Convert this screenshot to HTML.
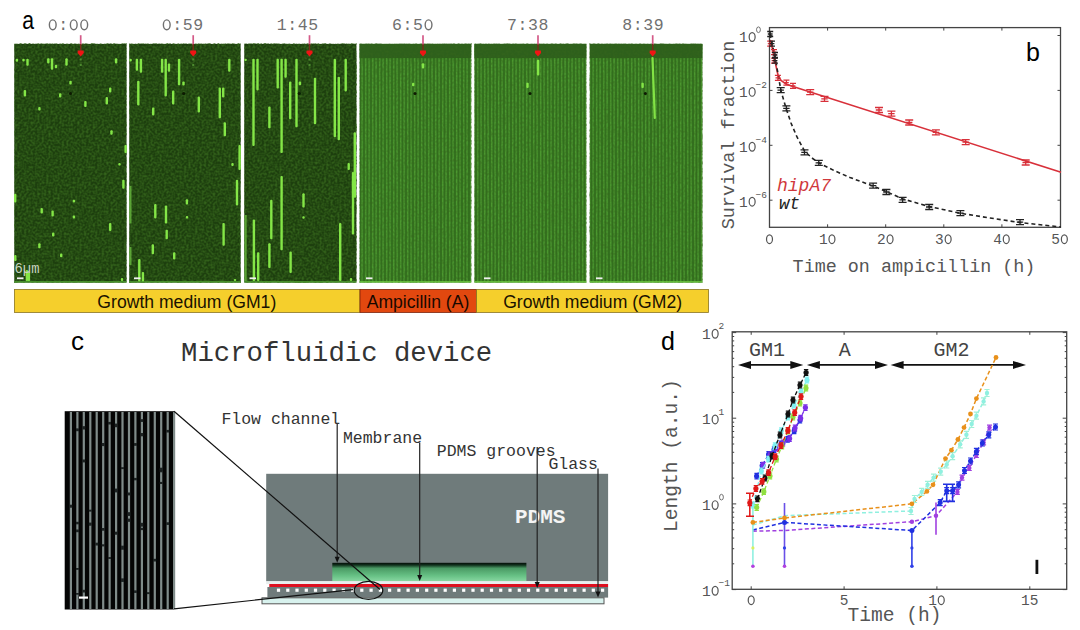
<!DOCTYPE html>
<html><head><meta charset="utf-8"><title>figure</title>
<style>html,body{margin:0;padding:0;background:#fff;width:1080px;height:630px;overflow:hidden}svg{display:block}</style>
</head><body>
<svg width="1080" height="630" viewBox="0 0 1080 630">
<rect width="1080" height="630" fill="#fff"/>
<defs>
<pattern id="strp" width="3.5" height="10" patternUnits="userSpaceOnUse"><rect width="3.5" height="10" fill="#32701e"/><rect x="0.9" width="1.5" height="10" fill="#4c9a30"/></pattern>
<filter id="glow" x="-50%" y="-10%" width="200%" height="120%"><feGaussianBlur stdDeviation="0.45"/></filter><filter id="noise" x="0" y="0" width="100%" height="100%" color-interpolation-filters="sRGB"><feTurbulence type="fractalNoise" baseFrequency="0.45" numOctaves="1" seed="4"/><feColorMatrix type="matrix" values="0 0 0 0 0.21  0 0 0 0 0.40  0 0 0 0 0.11  0 0 0 2.2 -0.78"/></filter>
<linearGradient id="chan" x1="0" y1="0" x2="0" y2="1"><stop offset="0" stop-color="#050d08"/><stop offset="0.12" stop-color="#10301c"/><stop offset="0.3" stop-color="#4a9a64"/><stop offset="0.7" stop-color="#66c084"/><stop offset="1" stop-color="#86d6a0"/></linearGradient>
</defs>
<rect x="14.3" y="43.9" width="112.2" height="238.7" fill="#1d3f0e"/>
<rect x="14.3" y="43.9" width="112.2" height="238.7" filter="url(#noise)"/>
<rect x="129.3" y="43.9" width="111.3" height="238.7" fill="#1d3f0e"/>
<rect x="129.3" y="43.9" width="111.3" height="238.7" filter="url(#noise)"/>
<rect x="244.3" y="43.9" width="112.1" height="238.7" fill="#1d3f0e"/>
<rect x="244.3" y="43.9" width="112.1" height="238.7" filter="url(#noise)"/>
<rect x="359.6" y="43.9" width="111.6" height="238.7" fill="url(#strp)"/>
<rect x="359.6" y="43.9" width="111.6" height="14.2" fill="#2e601c"/>
<rect x="359.6" y="43.9" width="111.6" height="238.7" filter="url(#noise)" opacity="0.6"/>
<rect x="474.4" y="43.9" width="111.9" height="238.7" fill="url(#strp)"/>
<rect x="474.4" y="43.9" width="111.9" height="14.2" fill="#2e601c"/>
<rect x="474.4" y="43.9" width="111.9" height="238.7" filter="url(#noise)" opacity="0.6"/>
<rect x="589.8" y="43.9" width="112.6" height="238.7" fill="url(#strp)"/>
<rect x="589.8" y="43.9" width="112.6" height="14.2" fill="#2e601c"/>
<rect x="589.8" y="43.9" width="112.6" height="238.7" filter="url(#noise)" opacity="0.6"/>
<g filter="url(#glow)">
<rect x="15.7" y="58.8" width="2.4" height="3.0" rx="1" fill="#84e646"/>
<rect x="22.3" y="58.8" width="2.4" height="2.6" rx="1" fill="#84e646"/>
<rect x="26.3" y="58.8" width="2.4" height="7.0" rx="1" fill="#84e646"/>
<rect x="47.1" y="58.2" width="2.4" height="5.2" rx="1" fill="#84e646"/>
<rect x="50.8" y="58.2" width="2.4" height="11.5" rx="1" fill="#84e646"/>
<rect x="54.8" y="64.8" width="2.4" height="3.4" rx="1" fill="#84e646"/>
<rect x="65.3" y="58.2" width="2.4" height="7.6" rx="1" fill="#84e646"/>
<rect x="114.9" y="58.2" width="2.4" height="5.2" rx="1" fill="#84e646"/>
<rect x="69.3" y="80.7" width="2.4" height="3.9" rx="1" fill="#84e646"/>
<rect x="23.7" y="90.0" width="2.4" height="6.5" rx="1" fill="#84e646"/>
<rect x="59.0" y="93.2" width="2.4" height="4.3" rx="1" fill="#84e646"/>
<rect x="109.0" y="87.6" width="2.4" height="5.0" rx="1" fill="#84e646"/>
<rect x="105.6" y="97.1" width="2.4" height="7.4" rx="1" fill="#84e646"/>
<rect x="84.2" y="101.0" width="2.4" height="6.0" rx="1" fill="#84e646"/>
<rect x="38.2" y="107.0" width="2.4" height="3.4" rx="1" fill="#84e646"/>
<rect x="110.3" y="130.2" width="2.4" height="4.6" rx="1" fill="#84e646"/>
<rect x="124.4" y="145.0" width="2.4" height="8.0" rx="1" fill="#84e646"/>
<rect x="118.3" y="163.0" width="2.4" height="2.5" rx="1" fill="#84e646"/>
<rect x="122.2" y="179.8" width="2.4" height="9.0" rx="1" fill="#84e646"/>
<rect x="14.0" y="193.7" width="2.4" height="8.9" rx="1" fill="#84e646"/>
<rect x="72.7" y="199.7" width="2.4" height="2.9" rx="1" fill="#84e646"/>
<rect x="40.5" y="208.0" width="2.4" height="5.5" rx="1" fill="#84e646"/>
<rect x="51.4" y="210.6" width="2.4" height="5.9" rx="1" fill="#84e646"/>
<rect x="72.7" y="215.5" width="2.4" height="3.0" rx="1" fill="#84e646"/>
<rect x="109.0" y="223.0" width="2.4" height="8.0" rx="1" fill="#84e646"/>
<rect x="52.0" y="232.4" width="2.4" height="4.0" rx="1" fill="#84e646"/>
<rect x="38.2" y="243.3" width="2.4" height="5.0" rx="1" fill="#84e646"/>
<rect x="60.0" y="253.6" width="2.4" height="3.6" rx="1" fill="#84e646"/>
<rect x="14.1" y="255.0" width="2.4" height="6.0" rx="1" fill="#84e646"/>
<rect x="25.7" y="270.0" width="2.4" height="11.0" rx="1" fill="#84e646"/>
<rect x="27.7" y="272.0" width="2.4" height="9.0" rx="1" fill="#84e646"/>
<rect x="120.8" y="278.0" width="2.4" height="3.0" rx="1" fill="#84e646"/>
<rect x="129.4" y="58.8" width="2.4" height="2.6" rx="1" fill="#84e646"/>
<rect x="135.7" y="58.8" width="2.4" height="11.9" rx="1" fill="#84e646"/>
<rect x="139.7" y="58.8" width="2.4" height="13.9" rx="1" fill="#84e646"/>
<rect x="160.9" y="58.8" width="2.4" height="13.9" rx="1" fill="#84e646"/>
<rect x="164.5" y="58.8" width="2.4" height="37.7" rx="1" fill="#84e646"/>
<rect x="167.8" y="63.4" width="2.4" height="8.3" rx="1" fill="#84e646"/>
<rect x="177.9" y="58.8" width="2.4" height="26.4" rx="1" fill="#84e646"/>
<rect x="182.3" y="81.6" width="2.4" height="4.0" rx="1" fill="#84e646"/>
<rect x="228.1" y="58.8" width="2.4" height="12.9" rx="1" fill="#84e646"/>
<rect x="137.1" y="80.7" width="2.4" height="24.8" rx="1" fill="#84e646"/>
<rect x="172.0" y="90.6" width="2.4" height="13.9" rx="1" fill="#84e646"/>
<rect x="152.0" y="107.4" width="2.4" height="8.0" rx="1" fill="#84e646"/>
<rect x="197.6" y="96.5" width="2.4" height="15.9" rx="1" fill="#84e646"/>
<rect x="218.6" y="87.6" width="2.4" height="30.7" rx="1" fill="#84e646"/>
<rect x="222.0" y="87.6" width="2.4" height="9.9" rx="1" fill="#84e646"/>
<rect x="223.6" y="122.3" width="2.4" height="13.9" rx="1" fill="#84e646"/>
<rect x="238.4" y="145.0" width="2.4" height="25.0" rx="1" fill="#84e646"/>
<rect x="231.3" y="163.0" width="2.4" height="3.0" rx="1" fill="#84e646"/>
<rect x="235.8" y="179.8" width="2.4" height="25.8" rx="1" fill="#84e646"/>
<rect x="185.7" y="199.3" width="2.4" height="5.3" rx="1" fill="#84e646"/>
<rect x="154.1" y="204.0" width="2.4" height="14.5" rx="1" fill="#84e646"/>
<rect x="164.8" y="205.6" width="2.4" height="17.9" rx="1" fill="#84e646"/>
<rect x="185.8" y="216.0" width="2.4" height="2.5" rx="1" fill="#84e646"/>
<rect x="222.4" y="223.0" width="2.4" height="22.7" rx="1" fill="#84e646"/>
<rect x="165.5" y="229.8" width="2.4" height="9.5" rx="1" fill="#84e646"/>
<rect x="151.6" y="244.3" width="2.4" height="9.9" rx="1" fill="#84e646"/>
<rect x="173.0" y="252.2" width="2.4" height="7.4" rx="1" fill="#84e646"/>
<rect x="138.1" y="259.0" width="2.4" height="23.0" rx="1" fill="#84e646"/>
<rect x="141.7" y="272.0" width="2.4" height="10.0" rx="1" fill="#84e646"/>
<rect x="233.8" y="279.0" width="2.4" height="2.0" rx="1" fill="#84e646"/>
<rect x="244.4" y="58.8" width="2.4" height="2.2" rx="1" fill="#84e646"/>
<rect x="252.3" y="58.8" width="2.4" height="87.2" rx="1" fill="#84e646"/>
<rect x="256.3" y="58.8" width="2.4" height="31.8" rx="1" fill="#84e646"/>
<rect x="276.5" y="58.8" width="2.4" height="29.8" rx="1" fill="#84e646"/>
<rect x="280.4" y="58.8" width="2.4" height="94.2" rx="1" fill="#84e646"/>
<rect x="284.4" y="58.8" width="2.4" height="18.9" rx="1" fill="#84e646"/>
<rect x="289.0" y="81.6" width="2.4" height="37.7" rx="1" fill="#84e646"/>
<rect x="295.3" y="58.8" width="2.4" height="68.5" rx="1" fill="#84e646"/>
<rect x="298.7" y="81.6" width="2.4" height="3.6" rx="1" fill="#84e646"/>
<rect x="313.8" y="77.7" width="2.4" height="46.6" rx="1" fill="#84e646"/>
<rect x="268.2" y="106.4" width="2.4" height="21.9" rx="1" fill="#84e646"/>
<rect x="333.6" y="58.8" width="2.4" height="78.4" rx="1" fill="#84e646"/>
<rect x="337.6" y="76.7" width="2.4" height="63.5" rx="1" fill="#84e646"/>
<rect x="344.5" y="58.8" width="2.4" height="32.8" rx="1" fill="#84e646"/>
<rect x="353.6" y="132.2" width="2.4" height="65.5" rx="1" fill="#84e646"/>
<rect x="347.5" y="163.0" width="2.4" height="7.0" rx="1" fill="#84e646"/>
<rect x="351.8" y="172.0" width="2.4" height="62.4" rx="1" fill="#84e646"/>
<rect x="280.4" y="175.9" width="2.4" height="74.3" rx="1" fill="#84e646"/>
<rect x="270.1" y="199.7" width="2.4" height="39.6" rx="1" fill="#84e646"/>
<rect x="302.3" y="193.3" width="2.4" height="14.3" rx="1" fill="#84e646"/>
<rect x="302.3" y="216.3" width="2.4" height="2.5" rx="1" fill="#84e646"/>
<rect x="252.7" y="219.5" width="2.4" height="61.5" rx="1" fill="#84e646"/>
<rect x="257.0" y="252.2" width="2.4" height="28.8" rx="1" fill="#84e646"/>
<rect x="268.2" y="243.3" width="2.4" height="24.7" rx="1" fill="#84e646"/>
<rect x="289.4" y="251.6" width="2.4" height="21.4" rx="1" fill="#84e646"/>
<rect x="339.0" y="223.0" width="2.4" height="58.0" rx="1" fill="#84e646"/>
<rect x="349.8" y="278.0" width="2.4" height="3.0" rx="1" fill="#84e646"/>
<rect x="421.8" y="63.3" width="2.4" height="5.3" rx="1" fill="#84e646"/>
<rect x="412.0" y="82.7" width="2.4" height="3.5" rx="1" fill="#84e646"/>
<rect x="536.9" y="59.8" width="2.4" height="15.8" rx="1" fill="#84e646"/>
<rect x="526.3" y="82.7" width="2.4" height="5.3" rx="1" fill="#84e646"/>
<rect x="641.4" y="82.7" width="2.4" height="5.3" rx="1" fill="#84e646"/>
<rect x="129.3" y="186" width="2.2" height="37.5" fill="#6cc040" opacity="0.75"/>
<rect x="129.3" y="247" width="2.2" height="18" fill="#6cc040" opacity="0.75"/>
<rect x="244.5" y="215" width="2.2" height="66" fill="#6cc040" opacity="0.75"/>
<line x1="652.5" y1="58" x2="654.8" y2="118" stroke="#82e344" stroke-width="2.2" stroke-linecap="round"/>
</g>
<rect x="79.7" y="58.5" width="2" height="2" fill="#4d8a30"/><rect x="79.7" y="64" width="2" height="2" fill="#4d8a30"/>
<rect x="192.2" y="58.5" width="2" height="2" fill="#4d8a30"/><rect x="192.2" y="64" width="2" height="2" fill="#4d8a30"/>
<rect x="308.5" y="58.5" width="2" height="2" fill="#4d8a30"/><rect x="308.5" y="64" width="2" height="2" fill="#4d8a30"/>
<circle cx="70.5" cy="93.5" r="1.5" fill="#0a1a05" filter="url(#glow)"/>
<circle cx="183.6" cy="93.5" r="1.5" fill="#0a1a05" filter="url(#glow)"/>
<circle cx="299.2" cy="93.5" r="1.5" fill="#0a1a05" filter="url(#glow)"/>
<circle cx="415" cy="93.5" r="1.5" fill="#0a1a05" filter="url(#glow)"/>
<circle cx="530" cy="93.5" r="1.5" fill="#0a1a05" filter="url(#glow)"/>
<circle cx="645.4" cy="93.5" r="1.5" fill="#0a1a05" filter="url(#glow)"/>
<rect x="14.3" y="281.2" width="112.2" height="1.3" fill="#4fa030"/>
<rect x="129.3" y="281.2" width="111.3" height="1.3" fill="#4fa030"/>
<rect x="244.3" y="281.2" width="112.1" height="1.3" fill="#4fa030"/>
<rect x="359.6" y="281.2" width="111.6" height="1.3" fill="#6cc840"/>
<rect x="474.4" y="281.2" width="111.9" height="1.3" fill="#6cc840"/>
<rect x="589.8" y="281.2" width="112.6" height="1.3" fill="#6cc840"/>
<rect x="17" y="277.4" width="6.5" height="1.8" fill="#f0f0f0"/>
<rect x="134" y="277.4" width="6.5" height="1.8" fill="#f0f0f0"/>
<rect x="249.5" y="277.4" width="6.5" height="1.8" fill="#f0f0f0"/>
<rect x="366" y="277.4" width="6.5" height="1.8" fill="#f0f0f0"/>
<rect x="484" y="277.4" width="6.5" height="1.8" fill="#f0f0f0"/>
<rect x="596" y="277.4" width="6.5" height="1.8" fill="#f0f0f0"/>
<text x="14.6" y="273.4" font-family="'Liberation Mono', monospace" font-size="13.8" fill="#c8d4c0">6µm</text>
<line x1="80.7" y1="35.2" x2="80.7" y2="45" stroke="#d45a88" stroke-width="1.7"/>
<line x1="80.7" y1="44" x2="80.7" y2="51" stroke="#7a2a1a" stroke-width="1.4"/>
<path d="M77.8,50.6 L83.60000000000001,50.6 L83.8,53 L80.7,56.6 L77.60000000000001,53 Z" fill="#f01414"/>
<text y="30.30" font-size="16.5" font-family="'Liberation Mono', monospace" fill="#707070" ><tspan x="58.30">:</tspan></text><ellipse cx="52.75" cy="24.82" rx="3.38" ry="4.95" fill="none" stroke="#707070" stroke-width="1.40"/><ellipse cx="73.75" cy="24.82" rx="3.38" ry="4.95" fill="none" stroke="#707070" stroke-width="1.40"/><ellipse cx="84.25" cy="24.82" rx="3.38" ry="4.95" fill="none" stroke="#707070" stroke-width="1.40"/>
<line x1="193.2" y1="35.2" x2="193.2" y2="45" stroke="#d45a88" stroke-width="1.7"/>
<line x1="193.2" y1="44" x2="193.2" y2="51" stroke="#7a2a1a" stroke-width="1.4"/>
<path d="M190.29999999999998,50.6 L196.1,50.6 L196.29999999999998,53 L193.2,56.6 L190.1,53 Z" fill="#f01414"/>
<text y="30.30" font-size="16.5" font-family="'Liberation Mono', monospace" fill="#707070" ><tspan x="172.30">:</tspan><tspan x="182.80">5</tspan><tspan x="193.30">9</tspan></text><ellipse cx="166.75" cy="24.82" rx="3.38" ry="4.95" fill="none" stroke="#707070" stroke-width="1.40"/>
<line x1="309.5" y1="35.2" x2="309.5" y2="45" stroke="#d45a88" stroke-width="1.7"/>
<line x1="309.5" y1="44" x2="309.5" y2="51" stroke="#7a2a1a" stroke-width="1.4"/>
<path d="M306.6,50.6 L312.4,50.6 L312.6,53 L309.5,56.6 L306.4,53 Z" fill="#f01414"/>
<text y="30.30" font-size="16.5" font-family="'Liberation Mono', monospace" fill="#707070" ><tspan x="276.80">1</tspan><tspan x="287.30">:</tspan><tspan x="297.80">4</tspan><tspan x="308.30">5</tspan></text>
<line x1="423" y1="35.2" x2="423" y2="45" stroke="#d45a88" stroke-width="1.7"/>
<line x1="423" y1="44" x2="423" y2="51" stroke="#7a2a1a" stroke-width="1.4"/>
<path d="M420.1,50.6 L425.9,50.6 L426.1,53 L423,56.6 L419.9,53 Z" fill="#f01414"/>
<text y="30.30" font-size="16.5" font-family="'Liberation Mono', monospace" fill="#707070" ><tspan x="392.10">6</tspan><tspan x="402.60">:</tspan><tspan x="413.10">5</tspan></text><ellipse cx="428.55" cy="24.82" rx="3.38" ry="4.95" fill="none" stroke="#707070" stroke-width="1.40"/>
<line x1="538" y1="35.2" x2="538" y2="45" stroke="#d45a88" stroke-width="1.7"/>
<line x1="538" y1="44" x2="538" y2="51" stroke="#7a2a1a" stroke-width="1.4"/>
<path d="M535.1,50.6 L540.9,50.6 L541.1,53 L538,56.6 L534.9,53 Z" fill="#f01414"/>
<text y="30.30" font-size="16.5" font-family="'Liberation Mono', monospace" fill="#707070" ><tspan x="506.90">7</tspan><tspan x="517.40">:</tspan><tspan x="527.90">3</tspan><tspan x="538.40">8</tspan></text>
<line x1="652.7" y1="35.2" x2="652.7" y2="45" stroke="#d45a88" stroke-width="1.7"/>
<line x1="652.7" y1="44" x2="652.7" y2="51" stroke="#7a2a1a" stroke-width="1.4"/>
<path d="M649.8000000000001,50.6 L655.6,50.6 L655.8000000000001,53 L652.7,56.6 L649.6,53 Z" fill="#f01414"/>
<text y="30.30" font-size="16.5" font-family="'Liberation Mono', monospace" fill="#707070" ><tspan x="622.30">8</tspan><tspan x="632.80">:</tspan><tspan x="643.30">3</tspan><tspan x="653.80">9</tspan></text>
<text transform="translate(22.3,29.2) scale(0.8,1)" font-family="'Liberation Sans', sans-serif" font-size="26.5" fill="#000">a</text>
<rect x="14.5" y="289.5" width="345.5" height="22.899999999999977" fill="#f5cf2c" stroke="#8a7420" stroke-width="0.8"/>
<rect x="360" y="289.5" width="116.5" height="22.899999999999977" fill="#e2480f" stroke="#7a2008" stroke-width="0.8"/>
<rect x="476.5" y="289.5" width="232" height="22.899999999999977" fill="#f5cf2c" stroke="#8a7420" stroke-width="0.8"/>
<text x="186.8" y="308" font-family="'Liberation Sans', sans-serif" font-size="17.6" fill="#1a1200" text-anchor="middle">Growth medium (GM1)</text>
<text x="418" y="308" font-family="'Liberation Sans', sans-serif" font-size="17.6" fill="#1a0800" text-anchor="middle">Ampicillin (A)</text>
<text x="592.6" y="308" font-family="'Liberation Sans', sans-serif" font-size="17.6" fill="#1a1200" text-anchor="middle">Growth medium (GM2)</text>
<rect x="769.5" y="27.6" width="291.0" height="199.70000000000002" fill="none" stroke="#444" stroke-width="1.3"/>
<line x1="827.6" y1="227.3" x2="827.6" y2="224.3" stroke="#444" stroke-width="1"/>
<line x1="827.6" y1="27.6" x2="827.6" y2="30.6" stroke="#444" stroke-width="1"/>
<line x1="885.7" y1="227.3" x2="885.7" y2="224.3" stroke="#444" stroke-width="1"/>
<line x1="885.7" y1="27.6" x2="885.7" y2="30.6" stroke="#444" stroke-width="1"/>
<line x1="943.8" y1="227.3" x2="943.8" y2="224.3" stroke="#444" stroke-width="1"/>
<line x1="943.8" y1="27.6" x2="943.8" y2="30.6" stroke="#444" stroke-width="1"/>
<line x1="1001.9" y1="227.3" x2="1001.9" y2="224.3" stroke="#444" stroke-width="1"/>
<line x1="1001.9" y1="27.6" x2="1001.9" y2="30.6" stroke="#444" stroke-width="1"/>
<line x1="769.5" y1="35.5" x2="772.5" y2="35.5" stroke="#444" stroke-width="1"/>
<line x1="1060.5" y1="35.5" x2="1057.5" y2="35.5" stroke="#444" stroke-width="1"/>
<text y="41.80" font-size="14.5" font-family="'Liberation Mono', monospace" fill="#555" ><tspan x="739.10">1</tspan></text><ellipse cx="752.15" cy="36.99" rx="2.97" ry="4.35" fill="none" stroke="#555" stroke-width="1.23"/>
<text y="32.90" font-size="9.5" font-family="'Liberation Mono', monospace" fill="#555" ></text><ellipse cx="758.45" cy="29.75" rx="1.95" ry="2.85" fill="none" stroke="#555" stroke-width="0.81"/>
<line x1="769.5" y1="90.4" x2="772.5" y2="90.4" stroke="#444" stroke-width="1"/>
<line x1="1060.5" y1="90.4" x2="1057.5" y2="90.4" stroke="#444" stroke-width="1"/>
<text y="96.70" font-size="14.5" font-family="'Liberation Mono', monospace" fill="#555" ><tspan x="739.10">1</tspan></text><ellipse cx="752.15" cy="91.89" rx="2.97" ry="4.35" fill="none" stroke="#555" stroke-width="1.23"/>
<text y="87.80" font-size="9.5" font-family="'Liberation Mono', monospace" fill="#555" ><tspan x="755.60">&#8722;</tspan><tspan x="761.30">2</tspan></text>
<line x1="769.5" y1="145.3" x2="772.5" y2="145.3" stroke="#444" stroke-width="1"/>
<line x1="1060.5" y1="145.3" x2="1057.5" y2="145.3" stroke="#444" stroke-width="1"/>
<text y="151.60" font-size="14.5" font-family="'Liberation Mono', monospace" fill="#555" ><tspan x="739.10">1</tspan></text><ellipse cx="752.15" cy="146.79" rx="2.97" ry="4.35" fill="none" stroke="#555" stroke-width="1.23"/>
<text y="142.70" font-size="9.5" font-family="'Liberation Mono', monospace" fill="#555" ><tspan x="755.60">&#8722;</tspan><tspan x="761.30">4</tspan></text>
<line x1="769.5" y1="200.2" x2="772.5" y2="200.2" stroke="#444" stroke-width="1"/>
<line x1="1060.5" y1="200.2" x2="1057.5" y2="200.2" stroke="#444" stroke-width="1"/>
<text y="206.50" font-size="14.5" font-family="'Liberation Mono', monospace" fill="#555" ><tspan x="739.10">1</tspan></text><ellipse cx="752.15" cy="201.69" rx="2.97" ry="4.35" fill="none" stroke="#555" stroke-width="1.23"/>
<text y="197.60" font-size="9.5" font-family="'Liberation Mono', monospace" fill="#555" ><tspan x="755.60">&#8722;</tspan><tspan x="761.30">6</tspan></text>
<text y="244.00" font-size="14.5" font-family="'Liberation Mono', monospace" fill="#555" ></text><ellipse cx="769.50" cy="239.19" rx="2.97" ry="4.35" fill="none" stroke="#555" stroke-width="1.23"/>
<text y="244.00" font-size="14.5" font-family="'Liberation Mono', monospace" fill="#555" ><tspan x="818.90">1</tspan></text><ellipse cx="831.95" cy="239.19" rx="2.97" ry="4.35" fill="none" stroke="#555" stroke-width="1.23"/>
<text y="244.00" font-size="14.5" font-family="'Liberation Mono', monospace" fill="#555" ><tspan x="877.00">2</tspan></text><ellipse cx="890.05" cy="239.19" rx="2.97" ry="4.35" fill="none" stroke="#555" stroke-width="1.23"/>
<text y="244.00" font-size="14.5" font-family="'Liberation Mono', monospace" fill="#555" ><tspan x="935.10">3</tspan></text><ellipse cx="948.15" cy="239.19" rx="2.97" ry="4.35" fill="none" stroke="#555" stroke-width="1.23"/>
<text y="244.00" font-size="14.5" font-family="'Liberation Mono', monospace" fill="#555" ><tspan x="993.20">4</tspan></text><ellipse cx="1006.25" cy="239.19" rx="2.97" ry="4.35" fill="none" stroke="#555" stroke-width="1.23"/>
<text y="244.00" font-size="14.5" font-family="'Liberation Mono', monospace" fill="#555" ><tspan x="1051.30">5</tspan></text><ellipse cx="1064.35" cy="239.19" rx="2.97" ry="4.35" fill="none" stroke="#555" stroke-width="1.23"/>
<text x="914" y="272" font-family="'Liberation Mono', monospace" font-size="18.4" fill="#555" text-anchor="middle">Time on ampicillin (h)</text>
<text transform="translate(734,135) rotate(-90)" font-family="'Liberation Mono', monospace" font-size="18.5" fill="#555" text-anchor="middle">Survival fraction</text>
<text x="1026" y="61.2" font-family="'Liberation Sans', sans-serif" font-size="25" fill="#000">b</text>
<text x="777" y="191.4" font-family="'Liberation Mono', monospace" font-size="18" font-style="italic" fill="#d0383c">hipA7</text>
<text x="779" y="208.6" font-family="'Liberation Mono', monospace" font-size="17.5" font-style="italic" fill="#222">wt</text>
<polyline points="770.2,40 772,47 774,55 776,66 778,75 781,80.5 786,84 793,86.5 1061,172.3" fill="none" stroke="#d8303a" stroke-width="1.6"/>
<polyline points="770,34 772,44 775,56 778,74 781,91 786,108 791,123 797,137 804.5,151 812,158 819,163 835,171 850,177.5 873,186 886,191.5 903,199 929,206.5 960,213.2 990,218 1020,222.5 1061,227" fill="none" stroke="#222" stroke-width="1.6" stroke-dasharray="4,3"/>
<path d="M767.2,41.1 H773.2 M770.2,41.1 V46.1 M767.2,46.1 H773.2 M767.8000000000001,43.6 H772.6" stroke="#d8303a" stroke-width="1.3" fill="none"/>
<path d="M771,49.6 H777 M774,49.6 V54.6 M771,54.6 H777 M771.6,52.1 H776.4" stroke="#d8303a" stroke-width="1.3" fill="none"/>
<path d="M771,58.2 H777 M774,58.2 V63.2 M771,63.2 H777 M771.6,60.7 H776.4" stroke="#d8303a" stroke-width="1.3" fill="none"/>
<path d="M774.9,75.4 H780.9 M777.9,75.4 V80.4 M774.9,80.4 H780.9 M775.5,77.9 H780.3" stroke="#d8303a" stroke-width="1.3" fill="none"/>
<path d="M783.4,80.1 H789.4 M786.4,80.1 V85.1 M783.4,85.1 H789.4 M784.0,82.6 H788.8" stroke="#d8303a" stroke-width="1.3" fill="none"/>
<path d="M790,83.4 H796 M793,83.4 V88.4 M790,88.4 H796 M790.6,85.9 H795.4" stroke="#d8303a" stroke-width="1.3" fill="none"/>
<path d="M806.2,89.6 H814.2 M810.2,89.6 V94.6 M806.2,94.6 H814.2 M807.0,92.1 H813.4000000000001" stroke="#d8303a" stroke-width="1.3" fill="none"/>
<path d="M820.5,96.3 H828.5 M824.5,96.3 V101.3 M820.5,101.3 H828.5 M821.3,98.8 H827.7" stroke="#d8303a" stroke-width="1.3" fill="none"/>
<path d="M875,107.5 H883 M879,107.5 V112.5 M875,112.5 H883 M875.8,110 H882.2" stroke="#d8303a" stroke-width="1.3" fill="none"/>
<path d="M887.4,111.1 H895.4 M891.4,111.1 V116.1 M887.4,116.1 H895.4 M888.1999999999999,113.6 H894.6" stroke="#d8303a" stroke-width="1.3" fill="none"/>
<path d="M905.2,120.0 H913.2 M909.2,120.0 V125.0 M905.2,125.0 H913.2 M906.0,122.5 H912.4000000000001" stroke="#d8303a" stroke-width="1.3" fill="none"/>
<path d="M931.9,129.8 H939.9 M935.9,129.8 V134.8 M931.9,134.8 H939.9 M932.6999999999999,132.3 H939.1" stroke="#d8303a" stroke-width="1.3" fill="none"/>
<path d="M961.7,139.6 H969.7 M965.7,139.6 V144.6 M961.7,144.6 H969.7 M962.5,142.1 H968.9000000000001" stroke="#d8303a" stroke-width="1.3" fill="none"/>
<path d="M1021.7,160.0 H1029.7 M1025.7,160.0 V165.0 M1021.7,165.0 H1029.7 M1022.5,162.5 H1028.9" stroke="#d8303a" stroke-width="1.3" fill="none"/>
<path d="M767.2,31.5 H773.2 M770.2,31.5 V36.5 M767.2,36.5 H773.2 M767.8000000000001,34 H772.6" stroke="#222" stroke-width="1.3" fill="none"/>
<path d="M769,41.1 H775 M772,41.1 V46.1 M769,46.1 H775 M769.6,43.6 H774.4" stroke="#222" stroke-width="1.3" fill="none"/>
<path d="M772,52.5 H778 M775,52.5 V57.5 M772,57.5 H778 M772.6,55 H777.4" stroke="#222" stroke-width="1.3" fill="none"/>
<path d="M772,58.2 H778 M775,58.2 V63.2 M772,63.2 H778 M772.6,60.7 H777.4" stroke="#222" stroke-width="1.3" fill="none"/>
<path d="M776.7,87.7 H784.7 M780.7,87.7 V92.7 M776.7,92.7 H784.7 M777.5,90.2 H783.9000000000001" stroke="#222" stroke-width="1.3" fill="none"/>
<path d="M782.4,105.8 H790.4 M786.4,105.8 V110.8 M782.4,110.8 H790.4 M783.1999999999999,108.3 H789.6" stroke="#222" stroke-width="1.3" fill="none"/>
<path d="M800.5,149.9 H808.5 M804.5,149.9 V154.9 M800.5,154.9 H808.5 M801.3,152.4 H807.7" stroke="#222" stroke-width="1.3" fill="none"/>
<path d="M814.8,160.4 H822.8 M818.8,160.4 V165.4 M814.8,165.4 H822.8 M815.5999999999999,162.9 H822.0" stroke="#222" stroke-width="1.3" fill="none"/>
<path d="M869.1,183.2 H877.1 M873.1,183.2 V188.2 M869.1,188.2 H877.1 M869.9,185.7 H876.3000000000001" stroke="#222" stroke-width="1.3" fill="none"/>
<path d="M882.4,189.5 H890.4 M886.4,189.5 V194.5 M882.4,194.5 H890.4 M883.1999999999999,192 H889.6" stroke="#222" stroke-width="1.3" fill="none"/>
<path d="M898.6,197.4 H906.6 M902.6,197.4 V202.4 M898.6,202.4 H906.6 M899.4,199.9 H905.8000000000001" stroke="#222" stroke-width="1.3" fill="none"/>
<path d="M925.2,204.5 H933.2 M929.2,204.5 V209.5 M925.2,209.5 H933.2 M926.0,207 H932.4000000000001" stroke="#222" stroke-width="1.3" fill="none"/>
<path d="M956.4,210.7 H964.4 M960.4,210.7 V215.7 M956.4,215.7 H964.4 M957.1999999999999,213.2 H963.6" stroke="#222" stroke-width="1.3" fill="none"/>
<path d="M1016,219.6 H1024 M1020,219.6 V224.6 M1016,224.6 H1024 M1016.8,222.1 H1023.2" stroke="#222" stroke-width="1.3" fill="none"/>
<text x="71" y="349.5" font-family="'Liberation Sans', sans-serif" font-size="26" fill="#000">c</text>
<text x="181" y="361" font-family="'Liberation Mono', monospace" font-size="27.3" fill="#333">Microfluidic device</text>
<rect x="64.7" y="411.2" width="109.3" height="198.3" fill="#050505"/>
<g filter="url(#glow)">
<rect x="69.8" y="412" width="2.2" height="197" fill="#808c8a"/>
<rect x="76.3" y="412" width="2.2" height="197" fill="#808c8a"/>
<rect x="82.7" y="412" width="2.2" height="197" fill="#808c8a"/>
<rect x="89.2" y="412" width="2.2" height="197" fill="#808c8a"/>
<rect x="95.6" y="412" width="2.2" height="197" fill="#808c8a"/>
<rect x="102.1" y="412" width="2.2" height="197" fill="#808c8a"/>
<rect x="108.5" y="412" width="2.2" height="197" fill="#808c8a"/>
<rect x="115.0" y="412" width="2.2" height="197" fill="#808c8a"/>
<rect x="121.4" y="412" width="2.2" height="197" fill="#808c8a"/>
<rect x="127.9" y="412" width="2.2" height="197" fill="#808c8a"/>
<rect x="134.3" y="412" width="2.2" height="197" fill="#808c8a"/>
<rect x="140.8" y="412" width="2.2" height="197" fill="#808c8a"/>
<rect x="147.2" y="412" width="2.2" height="197" fill="#808c8a"/>
<rect x="153.7" y="412" width="2.2" height="197" fill="#808c8a"/>
<rect x="160.1" y="412" width="2.2" height="197" fill="#808c8a"/>
<rect x="166.6" y="412" width="2.2" height="197" fill="#808c8a"/>
<rect x="173.0" y="412" width="2.2" height="197" fill="#808c8a"/>
<rect x="133.9" y="590.4" width="3" height="2.5" fill="#1a2020"/>
<rect x="75.9" y="428.4" width="3" height="2.8" fill="#1a2020"/>
<rect x="140.4" y="522.8" width="3" height="3.8" fill="#1a2020"/>
<rect x="108.1" y="421.9" width="3" height="2.6" fill="#1a2020"/>
<rect x="82.3" y="459.5" width="3" height="2.9" fill="#1a2020"/>
<rect x="75.9" y="568.0" width="3" height="1.8" fill="#1a2020"/>
<rect x="114.6" y="531.7" width="3" height="3.0" fill="#1a2020"/>
<rect x="75.9" y="521.8" width="3" height="2.5" fill="#1a2020"/>
<rect x="114.6" y="423.6" width="3" height="3.6" fill="#1a2020"/>
<rect x="127.5" y="492.5" width="3" height="2.9" fill="#1a2020"/>
<rect x="127.5" y="518.6" width="3" height="3.2" fill="#1a2020"/>
<rect x="88.8" y="522.6" width="3" height="3.1" fill="#1a2020"/>
<rect x="140.4" y="433.0" width="3" height="3.3" fill="#1a2020"/>
<rect x="75.9" y="529.5" width="3" height="2.7" fill="#1a2020"/>
<rect x="153.2" y="558.8" width="3" height="2.7" fill="#1a2020"/>
<rect x="159.7" y="481.9" width="3" height="2.1" fill="#1a2020"/>
<rect x="101.7" y="544.3" width="3" height="2.1" fill="#1a2020"/>
<rect x="127.5" y="512.2" width="3" height="3.7" fill="#1a2020"/>
<rect x="159.7" y="468.3" width="3" height="4.0" fill="#1a2020"/>
<rect x="88.8" y="509.7" width="3" height="1.9" fill="#1a2020"/>
<rect x="133.9" y="443.1" width="3" height="2.7" fill="#1a2020"/>
<rect x="75.9" y="593.0" width="3" height="1.7" fill="#1a2020"/>
<rect x="133.9" y="477.9" width="3" height="2.4" fill="#1a2020"/>
<rect x="166.2" y="522.3" width="3" height="2.6" fill="#1a2020"/>
<rect x="82.3" y="589.8" width="3" height="2.7" fill="#1a2020"/>
<rect x="82.3" y="426.2" width="3" height="3.3" fill="#1a2020"/>
<rect x="159.7" y="467.7" width="3" height="2.5" fill="#1a2020"/>
<rect x="140.4" y="419.2" width="3" height="2.7" fill="#1a2020"/>
<rect x="101.7" y="528.0" width="3" height="2.7" fill="#1a2020"/>
<rect x="108.1" y="557.1" width="3" height="1.8" fill="#1a2020"/>
<rect x="114.6" y="488.6" width="3" height="3.8" fill="#1a2020"/>
<rect x="166.2" y="429.9" width="3" height="2.6" fill="#1a2020"/>
<rect x="121.0" y="578.4" width="3" height="3.5" fill="#1a2020"/>
<rect x="121.0" y="545.7" width="3" height="4.0" fill="#1a2020"/>
<rect x="146.8" y="592.2" width="3" height="1.9" fill="#1a2020"/>
<rect x="101.7" y="443.0" width="3" height="3.1" fill="#1a2020"/>
<rect x="69.4" y="504.7" width="3" height="3.0" fill="#1a2020"/>
<rect x="121.0" y="467.2" width="3" height="1.9" fill="#1a2020"/>
<rect x="140.4" y="527.8" width="3" height="2.3" fill="#1a2020"/>
<rect x="95.2" y="542.7" width="3" height="2.8" fill="#1a2020"/>
</g>
<rect x="79" y="596.5" width="9" height="2.2" fill="#fff"/>
<rect x="266.2" y="473.8" width="341.9" height="107.5" fill="#6f7b7b"/>
<rect x="266.2" y="581.3" width="341.9" height="2.8" fill="#e8eeee"/>
<rect x="269.3" y="584" width="338.8" height="3" fill="#dd1020"/>
<rect x="267.4" y="587" width="340.7" height="10.6" fill="#6f7b7b"/>
<rect x="276.9" y="588.6" width="3.2" height="3.2" fill="#fff"/>
<rect x="286.2" y="588.6" width="3.2" height="3.2" fill="#fff"/>
<rect x="295.4" y="588.6" width="3.2" height="3.2" fill="#fff"/>
<rect x="304.7" y="588.6" width="3.2" height="3.2" fill="#fff"/>
<rect x="313.9" y="588.6" width="3.2" height="3.2" fill="#fff"/>
<rect x="323.2" y="588.6" width="3.2" height="3.2" fill="#fff"/>
<rect x="332.5" y="588.6" width="3.2" height="3.2" fill="#fff"/>
<rect x="341.7" y="588.6" width="3.2" height="3.2" fill="#fff"/>
<rect x="351.0" y="588.6" width="3.2" height="3.2" fill="#fff"/>
<rect x="360.2" y="588.6" width="3.2" height="3.2" fill="#fff"/>
<rect x="369.5" y="588.6" width="3.2" height="3.2" fill="#fff"/>
<rect x="378.8" y="588.6" width="3.2" height="3.2" fill="#fff"/>
<rect x="388.0" y="588.6" width="3.2" height="3.2" fill="#fff"/>
<rect x="397.3" y="588.6" width="3.2" height="3.2" fill="#fff"/>
<rect x="406.5" y="588.6" width="3.2" height="3.2" fill="#fff"/>
<rect x="415.8" y="588.6" width="3.2" height="3.2" fill="#fff"/>
<rect x="425.1" y="588.6" width="3.2" height="3.2" fill="#fff"/>
<rect x="434.3" y="588.6" width="3.2" height="3.2" fill="#fff"/>
<rect x="443.6" y="588.6" width="3.2" height="3.2" fill="#fff"/>
<rect x="452.8" y="588.6" width="3.2" height="3.2" fill="#fff"/>
<rect x="462.1" y="588.6" width="3.2" height="3.2" fill="#fff"/>
<rect x="471.4" y="588.6" width="3.2" height="3.2" fill="#fff"/>
<rect x="480.6" y="588.6" width="3.2" height="3.2" fill="#fff"/>
<rect x="489.9" y="588.6" width="3.2" height="3.2" fill="#fff"/>
<rect x="499.1" y="588.6" width="3.2" height="3.2" fill="#fff"/>
<rect x="508.4" y="588.6" width="3.2" height="3.2" fill="#fff"/>
<rect x="517.7" y="588.6" width="3.2" height="3.2" fill="#fff"/>
<rect x="526.9" y="588.6" width="3.2" height="3.2" fill="#fff"/>
<rect x="536.2" y="588.6" width="3.2" height="3.2" fill="#fff"/>
<rect x="545.4" y="588.6" width="3.2" height="3.2" fill="#fff"/>
<rect x="554.7" y="588.6" width="3.2" height="3.2" fill="#fff"/>
<rect x="564.0" y="588.6" width="3.2" height="3.2" fill="#fff"/>
<rect x="573.2" y="588.6" width="3.2" height="3.2" fill="#fff"/>
<rect x="582.5" y="588.6" width="3.2" height="3.2" fill="#fff"/>
<rect x="591.7" y="588.6" width="3.2" height="3.2" fill="#fff"/>
<rect x="601.0" y="588.6" width="3.2" height="3.2" fill="#fff"/>
<rect x="262" y="597.8" width="342" height="6" fill="#d8f2ee" stroke="#555" stroke-width="1"/>
<rect x="332.3" y="562.8" width="194.1" height="18.2" fill="url(#chan)"/>
<text x="515" y="523" font-family="'Liberation Mono', monospace" font-size="21" font-weight="bold" fill="#f4f4f4">PDMS</text>
<text x="221.4" y="424" font-family="'Liberation Mono', monospace" font-size="16.5" fill="#333">Flow channel</text>
<text x="342.9" y="442.8" font-family="'Liberation Mono', monospace" font-size="16.5" fill="#333">Membrane</text>
<text x="436.8" y="455.6" font-family="'Liberation Mono', monospace" font-size="16.5" fill="#333">PDMS grooves</text>
<text x="548.4" y="468.6" font-family="'Liberation Mono', monospace" font-size="16.5" fill="#333">Glass</text>
<line x1="337.2" y1="424" x2="337.2" y2="557.8" stroke="#222" stroke-width="1.2"/><path d="M334.7,556.8 L339.7,556.8 L337.2,562.8 Z" fill="#111"/>
<line x1="419.7" y1="442.6" x2="419.7" y2="576" stroke="#222" stroke-width="1.2"/><path d="M417.2,575 L422.2,575 L419.7,581 Z" fill="#111"/>
<line x1="537.2" y1="447" x2="537.2" y2="583" stroke="#222" stroke-width="1.2"/><path d="M534.7,582 L539.7,582 L537.2,588 Z" fill="#111"/>
<line x1="598" y1="468.6" x2="598" y2="592.5" stroke="#222" stroke-width="1.2"/><path d="M595.5,591.5 L600.5,591.5 L598,597.5 Z" fill="#111"/>
<line x1="174" y1="411.2" x2="380" y2="589.5" stroke="#111" stroke-width="1.2"/>
<line x1="174" y1="608.8" x2="353" y2="589.6" stroke="#111" stroke-width="1.2"/>
<ellipse cx="368.5" cy="590.3" rx="14.3" ry="9" fill="none" stroke="#111" stroke-width="1.2"/>
<text x="661" y="349.5" font-family="'Liberation Sans', sans-serif" font-size="25" fill="#000">d</text>
<rect x="732.2" y="331.8" width="334.5" height="257.49999999999994" fill="none" stroke="#444" stroke-width="1.3"/>
<line x1="751.2" y1="589.3" x2="751.2" y2="586.3" stroke="#444"/>
<line x1="751.2" y1="331.8" x2="751.2" y2="334.8" stroke="#444"/>
<text y="605.00" font-size="14.5" font-family="'Liberation Mono', monospace" fill="#555" ></text><ellipse cx="751.20" cy="600.19" rx="2.97" ry="4.35" fill="none" stroke="#555" stroke-width="1.23"/>
<line x1="844.1" y1="589.3" x2="844.1" y2="586.3" stroke="#444"/>
<line x1="844.1" y1="331.8" x2="844.1" y2="334.8" stroke="#444"/>
<text y="605.00" font-size="14.5" font-family="'Liberation Mono', monospace" fill="#555" ><tspan x="839.70">5</tspan></text>
<line x1="936.9" y1="589.3" x2="936.9" y2="586.3" stroke="#444"/>
<line x1="936.9" y1="331.8" x2="936.9" y2="334.8" stroke="#444"/>
<text y="605.00" font-size="14.5" font-family="'Liberation Mono', monospace" fill="#555" ><tspan x="928.20">1</tspan></text><ellipse cx="941.25" cy="600.19" rx="2.97" ry="4.35" fill="none" stroke="#555" stroke-width="1.23"/>
<line x1="1029.8" y1="589.3" x2="1029.8" y2="586.3" stroke="#444"/>
<line x1="1029.8" y1="331.8" x2="1029.8" y2="334.8" stroke="#444"/>
<text y="605.00" font-size="14.5" font-family="'Liberation Mono', monospace" fill="#555" ><tspan x="1021.05">1</tspan><tspan x="1029.75">5</tspan></text>
<line x1="732.2" y1="563.8" x2="734.2" y2="563.8" stroke="#444"/>
<line x1="1066.7" y1="563.8" x2="1064.7" y2="563.8" stroke="#444"/>
<line x1="732.2" y1="548.7" x2="734.2" y2="548.7" stroke="#444"/>
<line x1="1066.7" y1="548.7" x2="1064.7" y2="548.7" stroke="#444"/>
<line x1="732.2" y1="538.0" x2="734.2" y2="538.0" stroke="#444"/>
<line x1="1066.7" y1="538.0" x2="1064.7" y2="538.0" stroke="#444"/>
<line x1="732.2" y1="529.7" x2="734.2" y2="529.7" stroke="#444"/>
<line x1="1066.7" y1="529.7" x2="1064.7" y2="529.7" stroke="#444"/>
<line x1="732.2" y1="522.9" x2="734.2" y2="522.9" stroke="#444"/>
<line x1="1066.7" y1="522.9" x2="1064.7" y2="522.9" stroke="#444"/>
<line x1="732.2" y1="517.2" x2="734.2" y2="517.2" stroke="#444"/>
<line x1="1066.7" y1="517.2" x2="1064.7" y2="517.2" stroke="#444"/>
<line x1="732.2" y1="512.2" x2="734.2" y2="512.2" stroke="#444"/>
<line x1="1066.7" y1="512.2" x2="1064.7" y2="512.2" stroke="#444"/>
<line x1="732.2" y1="507.8" x2="734.2" y2="507.8" stroke="#444"/>
<line x1="1066.7" y1="507.8" x2="1064.7" y2="507.8" stroke="#444"/>
<line x1="732.2" y1="478.1" x2="734.2" y2="478.1" stroke="#444"/>
<line x1="1066.7" y1="478.1" x2="1064.7" y2="478.1" stroke="#444"/>
<line x1="732.2" y1="463.0" x2="734.2" y2="463.0" stroke="#444"/>
<line x1="1066.7" y1="463.0" x2="1064.7" y2="463.0" stroke="#444"/>
<line x1="732.2" y1="452.3" x2="734.2" y2="452.3" stroke="#444"/>
<line x1="1066.7" y1="452.3" x2="1064.7" y2="452.3" stroke="#444"/>
<line x1="732.2" y1="444.0" x2="734.2" y2="444.0" stroke="#444"/>
<line x1="1066.7" y1="444.0" x2="1064.7" y2="444.0" stroke="#444"/>
<line x1="732.2" y1="437.2" x2="734.2" y2="437.2" stroke="#444"/>
<line x1="1066.7" y1="437.2" x2="1064.7" y2="437.2" stroke="#444"/>
<line x1="732.2" y1="431.5" x2="734.2" y2="431.5" stroke="#444"/>
<line x1="1066.7" y1="431.5" x2="1064.7" y2="431.5" stroke="#444"/>
<line x1="732.2" y1="426.5" x2="734.2" y2="426.5" stroke="#444"/>
<line x1="1066.7" y1="426.5" x2="1064.7" y2="426.5" stroke="#444"/>
<line x1="732.2" y1="422.2" x2="734.2" y2="422.2" stroke="#444"/>
<line x1="1066.7" y1="422.2" x2="1064.7" y2="422.2" stroke="#444"/>
<line x1="732.2" y1="392.4" x2="734.2" y2="392.4" stroke="#444"/>
<line x1="1066.7" y1="392.4" x2="1064.7" y2="392.4" stroke="#444"/>
<line x1="732.2" y1="377.4" x2="734.2" y2="377.4" stroke="#444"/>
<line x1="1066.7" y1="377.4" x2="1064.7" y2="377.4" stroke="#444"/>
<line x1="732.2" y1="366.7" x2="734.2" y2="366.7" stroke="#444"/>
<line x1="1066.7" y1="366.7" x2="1064.7" y2="366.7" stroke="#444"/>
<line x1="732.2" y1="358.3" x2="734.2" y2="358.3" stroke="#444"/>
<line x1="1066.7" y1="358.3" x2="1064.7" y2="358.3" stroke="#444"/>
<line x1="732.2" y1="351.6" x2="734.2" y2="351.6" stroke="#444"/>
<line x1="1066.7" y1="351.6" x2="1064.7" y2="351.6" stroke="#444"/>
<line x1="732.2" y1="345.8" x2="734.2" y2="345.8" stroke="#444"/>
<line x1="1066.7" y1="345.8" x2="1064.7" y2="345.8" stroke="#444"/>
<line x1="732.2" y1="340.9" x2="734.2" y2="340.9" stroke="#444"/>
<line x1="1066.7" y1="340.9" x2="1064.7" y2="340.9" stroke="#444"/>
<line x1="732.2" y1="336.5" x2="734.2" y2="336.5" stroke="#444"/>
<line x1="1066.7" y1="336.5" x2="1064.7" y2="336.5" stroke="#444"/>
<line x1="732.2" y1="589.6" x2="736.2" y2="589.6" stroke="#444"/>
<line x1="1066.7" y1="589.6" x2="1062.7" y2="589.6" stroke="#444"/>
<text y="595.57" font-size="14.5" font-family="'Liberation Mono', monospace" fill="#555" ><tspan x="702.10">1</tspan></text><ellipse cx="715.15" cy="590.76" rx="2.97" ry="4.35" fill="none" stroke="#555" stroke-width="1.23"/>
<text y="585.97" font-size="9.5" font-family="'Liberation Mono', monospace" fill="#555" ><tspan x="718.60">&#8722;</tspan><tspan x="724.30">1</tspan></text>
<line x1="732.2" y1="503.9" x2="736.2" y2="503.9" stroke="#444"/>
<line x1="1066.7" y1="503.9" x2="1062.7" y2="503.9" stroke="#444"/>
<text y="509.90" font-size="14.5" font-family="'Liberation Mono', monospace" fill="#555" ><tspan x="702.10">1</tspan></text><ellipse cx="715.15" cy="505.09" rx="2.97" ry="4.35" fill="none" stroke="#555" stroke-width="1.23"/>
<text y="500.30" font-size="9.5" font-family="'Liberation Mono', monospace" fill="#555" ></text><ellipse cx="721.45" cy="497.15" rx="1.95" ry="2.85" fill="none" stroke="#555" stroke-width="0.81"/>
<line x1="732.2" y1="418.2" x2="736.2" y2="418.2" stroke="#444"/>
<line x1="1066.7" y1="418.2" x2="1062.7" y2="418.2" stroke="#444"/>
<text y="424.23" font-size="14.5" font-family="'Liberation Mono', monospace" fill="#555" ><tspan x="702.10">1</tspan></text><ellipse cx="715.15" cy="419.42" rx="2.97" ry="4.35" fill="none" stroke="#555" stroke-width="1.23"/>
<text y="414.63" font-size="9.5" font-family="'Liberation Mono', monospace" fill="#555" ><tspan x="718.60">1</tspan></text>
<line x1="732.2" y1="332.6" x2="736.2" y2="332.6" stroke="#444"/>
<line x1="1066.7" y1="332.6" x2="1062.7" y2="332.6" stroke="#444"/>
<text y="338.56" font-size="14.5" font-family="'Liberation Mono', monospace" fill="#555" ><tspan x="702.10">1</tspan></text><ellipse cx="715.15" cy="333.75" rx="2.97" ry="4.35" fill="none" stroke="#555" stroke-width="1.23"/>
<text y="328.96" font-size="9.5" font-family="'Liberation Mono', monospace" fill="#555" ><tspan x="718.60">2</tspan></text>
<text x="894.5" y="620.6" font-family="'Liberation Mono', monospace" font-size="19.6" fill="#555" text-anchor="middle">Time (h)</text>
<text transform="translate(676.6,455.7) rotate(-90)" font-family="'Liberation Mono', monospace" font-size="19.6" fill="#555" text-anchor="middle">Length (a.u.)</text>
<line x1="746" y1="364.9" x2="795.3" y2="364.9" stroke="#111" stroke-width="1.6"/><path d="M738,364.9 L751,360.9 L751,368.9 Z" fill="#111"/><path d="M803.3,364.9 L790.3,360.9 L790.3,368.9 Z" fill="#111"/>
<line x1="814.9" y1="364.9" x2="880" y2="364.9" stroke="#111" stroke-width="1.6"/><path d="M806.9,364.9 L819.9,360.9 L819.9,368.9 Z" fill="#111"/><path d="M888,364.9 L875,360.9 L875,368.9 Z" fill="#111"/>
<line x1="898.6" y1="364.9" x2="1018" y2="364.9" stroke="#111" stroke-width="1.6"/><path d="M890.6,364.9 L903.6,360.9 L903.6,368.9 Z" fill="#111"/><path d="M1026,364.9 L1013,360.9 L1013,368.9 Z" fill="#111"/>
<text x="767" y="355.8" font-family="'Liberation Mono', monospace" font-size="20" fill="#444" text-anchor="middle">GM1</text>
<text x="844.7" y="355.8" font-family="'Liberation Mono', monospace" font-size="20" fill="#444" text-anchor="middle">A</text>
<text x="951.5" y="355.8" font-family="'Liberation Mono', monospace" font-size="20" fill="#444" text-anchor="middle">GM2</text>
<rect x="1035.5" y="559.8" width="2.8" height="14.2" fill="#111"/>
<polyline points="752.9,525.0 784.5,515.7 911.0,511.0 914.5,499.0 921.7,491.9 927.6,484.8 933.6,477.6 940.7,471.7 946.7,464.5 952.6,456.2 960.2,444.3 966.4,434.8 971.7,424.0 976.4,415.7 983.6,401.4 987.0,393.0" fill="none" stroke="#8ff0e0" stroke-width="1.5" stroke-dasharray="4,2.5"/>
<polyline points="752.9,522.4 784.5,518.0 911.9,503.8 926.9,491.4 933.0,484.8 945.5,458.6 951.4,450.2 957.9,439.5 964.0,427.6 970.5,414.0 976.4,398.6 996.0,357.5" fill="none" stroke="#e8901a" stroke-width="1.5" stroke-dasharray="4,2.5"/>
<polyline points="752.9,531.2 784.5,530.5 911.9,521.7 936.0,515.7 957.4,491.9 962.0,477.6 969.3,468.0 976.4,455.0 983.6,442.4 989.5,427.6" fill="none" stroke="#a040e0" stroke-width="1.5" stroke-dasharray="4,2.5"/>
<polyline points="752.9,530.0 784.5,522.4 911.9,530.5 940.2,502.6 946.7,490.7 952.6,490.7 958.6,484.8 964.5,470.5 970.5,461.0 976.4,451.4 982.4,443.0 988.8,434.8 995.5,427.0" fill="none" stroke="#2030e0" stroke-width="1.5" stroke-dasharray="4,2.5"/>
<line x1="752.9" y1="503" x2="752.9" y2="567" stroke="#90f0e0" stroke-width="1.6"/>
<line x1="784.5" y1="503" x2="784.5" y2="567" stroke="#6a50e8" stroke-width="1.6"/>
<line x1="911.9" y1="530" x2="911.9" y2="567" stroke="#3040e8" stroke-width="1.6"/>
<line x1="936" y1="502.6" x2="936" y2="534.8" stroke="#a040e0" stroke-width="1.6"/>
<circle cx="752.9" cy="547.9" r="1.6" fill="#d8f060"/><circle cx="784.5" cy="547.9" r="1.6" fill="#3040e8"/><circle cx="911.9" cy="547.9" r="1.6" fill="#3040e8"/>
<circle cx="752.9" cy="566.2" r="1.8" fill="#b040e0"/><circle cx="784.5" cy="566.2" r="1.8" fill="#b040e0"/><circle cx="911.9" cy="566.2" r="1.8" fill="#3040e8"/>
<path d="M908.4,507.5 H913.6 M911,507.5 V514.5 M908.4,514.5 H913.6" stroke="#a0f0d8" stroke-width="1.2" fill="none"/><path d="M911.9,495.5 H917.1 M914.5,495.5 V502.5 M911.9,502.5 H917.1" stroke="#a0f0d8" stroke-width="1.2" fill="none"/><path d="M919.1,488.4 H924.3000000000001 M921.7,488.4 V495.4 M919.1,495.4 H924.3000000000001" stroke="#a0f0d8" stroke-width="1.2" fill="none"/><path d="M925.0,481.3 H930.2 M927.6,481.3 V488.3 M925.0,488.3 H930.2" stroke="#a0f0d8" stroke-width="1.2" fill="none"/><path d="M931.0,474.1 H936.2 M933.6,474.1 V481.1 M931.0,481.1 H936.2" stroke="#a0f0d8" stroke-width="1.2" fill="none"/><path d="M938.1,468.2 H943.3000000000001 M940.7,468.2 V475.2 M938.1,475.2 H943.3000000000001" stroke="#a0f0d8" stroke-width="1.2" fill="none"/><path d="M944.1,461.0 H949.3000000000001 M946.7,461.0 V468.0 M944.1,468.0 H949.3000000000001" stroke="#a0f0d8" stroke-width="1.2" fill="none"/><path d="M950.0,452.7 H955.2 M952.6,452.7 V459.7 M950.0,459.7 H955.2" stroke="#a0f0d8" stroke-width="1.2" fill="none"/><path d="M957.6,440.8 H962.8000000000001 M960.2,440.8 V447.8 M957.6,447.8 H962.8000000000001" stroke="#a0f0d8" stroke-width="1.2" fill="none"/><path d="M963.8,431.3 H969.0 M966.4,431.3 V438.3 M963.8,438.3 H969.0" stroke="#a0f0d8" stroke-width="1.2" fill="none"/><path d="M969.1,420.5 H974.3000000000001 M971.7,420.5 V427.5 M969.1,427.5 H974.3000000000001" stroke="#a0f0d8" stroke-width="1.2" fill="none"/><path d="M973.8,412.2 H979.0 M976.4,412.2 V419.2 M973.8,419.2 H979.0" stroke="#a0f0d8" stroke-width="1.2" fill="none"/><path d="M981.0,397.9 H986.2 M983.6,397.9 V404.9 M981.0,404.9 H986.2" stroke="#a0f0d8" stroke-width="1.2" fill="none"/><path d="M984.4,389.5 H989.6 M987,389.5 V396.5 M984.4,396.5 H989.6" stroke="#a0f0d8" stroke-width="1.2" fill="none"/>
<circle cx="911.0" cy="511.0" r="2.2" fill="#90f0e0"/><circle cx="914.5" cy="499.0" r="2.2" fill="#90f0e0"/><circle cx="921.7" cy="491.9" r="2.2" fill="#90f0e0"/><circle cx="927.6" cy="484.8" r="2.2" fill="#90f0e0"/><circle cx="933.6" cy="477.6" r="2.2" fill="#90f0e0"/><circle cx="940.7" cy="471.7" r="2.2" fill="#90f0e0"/><circle cx="946.7" cy="464.5" r="2.2" fill="#90f0e0"/><circle cx="952.6" cy="456.2" r="2.2" fill="#90f0e0"/><circle cx="960.2" cy="444.3" r="2.2" fill="#90f0e0"/><circle cx="966.4" cy="434.8" r="2.2" fill="#90f0e0"/><circle cx="971.7" cy="424.0" r="2.2" fill="#90f0e0"/><circle cx="976.4" cy="415.7" r="2.2" fill="#90f0e0"/><circle cx="983.6" cy="401.4" r="2.2" fill="#90f0e0"/><circle cx="987.0" cy="393.0" r="2.2" fill="#90f0e0"/>
<circle cx="752.9" cy="522.4" r="2.4" fill="#e8901a"/><circle cx="784.5" cy="518.0" r="2.4" fill="#e8901a"/><circle cx="911.9" cy="503.8" r="2.4" fill="#e8901a"/><circle cx="926.9" cy="491.4" r="2.4" fill="#e8901a"/><circle cx="933.0" cy="484.8" r="2.4" fill="#e8901a"/><circle cx="945.5" cy="458.6" r="2.4" fill="#e8901a"/><circle cx="951.4" cy="450.2" r="2.4" fill="#e8901a"/><circle cx="957.9" cy="439.5" r="2.4" fill="#e8901a"/><circle cx="964.0" cy="427.6" r="2.4" fill="#e8901a"/><circle cx="970.5" cy="414.0" r="2.4" fill="#e8901a"/><circle cx="976.4" cy="398.6" r="2.4" fill="#e8901a"/><circle cx="996.0" cy="357.5" r="2.4" fill="#e8901a"/>
<path d="M954.9,489.4 H959.9 M957.4,489.4 V494.4 M954.9,494.4 H959.9" stroke="#a040e0" stroke-width="1.2" fill="none"/><path d="M959.5,475.1 H964.5 M962,475.1 V480.1 M959.5,480.1 H964.5" stroke="#a040e0" stroke-width="1.2" fill="none"/><path d="M966.8,465.5 H971.8 M969.3,465.5 V470.5 M966.8,470.5 H971.8" stroke="#a040e0" stroke-width="1.2" fill="none"/><path d="M973.9,452.5 H978.9 M976.4,452.5 V457.5 M973.9,457.5 H978.9" stroke="#a040e0" stroke-width="1.2" fill="none"/><path d="M981.1,439.9 H986.1 M983.6,439.9 V444.9 M981.1,444.9 H986.1" stroke="#a040e0" stroke-width="1.2" fill="none"/><path d="M987.0,425.1 H992.0 M989.5,425.1 V430.1 M987.0,430.1 H992.0" stroke="#a040e0" stroke-width="1.2" fill="none"/>
<circle cx="911.9" cy="521.7" r="2.2" fill="#a040e0"/><circle cx="936.0" cy="515.7" r="2.2" fill="#a040e0"/><circle cx="957.4" cy="491.9" r="2.2" fill="#a040e0"/><circle cx="962.0" cy="477.6" r="2.2" fill="#a040e0"/><circle cx="969.3" cy="468.0" r="2.2" fill="#a040e0"/><circle cx="976.4" cy="455.0" r="2.2" fill="#a040e0"/><circle cx="983.6" cy="442.4" r="2.2" fill="#a040e0"/><circle cx="989.5" cy="427.6" r="2.2" fill="#a040e0"/>
<path d="M937.7,499.6 H942.7 M940.2,499.6 V505.6 M937.7,505.6 H942.7" stroke="#2030e0" stroke-width="1.2" fill="none"/><path d="M944.2,487.7 H949.2 M946.7,487.7 V493.7 M944.2,493.7 H949.2" stroke="#2030e0" stroke-width="1.2" fill="none"/><path d="M950.1,487.7 H955.1 M952.6,487.7 V493.7 M950.1,493.7 H955.1" stroke="#2030e0" stroke-width="1.2" fill="none"/><path d="M956.1,481.8 H961.1 M958.6,481.8 V487.8 M956.1,487.8 H961.1" stroke="#2030e0" stroke-width="1.2" fill="none"/><path d="M962.0,467.5 H967.0 M964.5,467.5 V473.5 M962.0,473.5 H967.0" stroke="#2030e0" stroke-width="1.2" fill="none"/><path d="M968.0,458 H973.0 M970.5,458 V464 M968.0,464 H973.0" stroke="#2030e0" stroke-width="1.2" fill="none"/><path d="M973.9,448.4 H978.9 M976.4,448.4 V454.4 M973.9,454.4 H978.9" stroke="#2030e0" stroke-width="1.2" fill="none"/><path d="M979.9,440 H984.9 M982.4,440 V446 M979.9,446 H984.9" stroke="#2030e0" stroke-width="1.2" fill="none"/><path d="M986.3,431.8 H991.3 M988.8,431.8 V437.8 M986.3,437.8 H991.3" stroke="#2030e0" stroke-width="1.2" fill="none"/><path d="M993.0,424 H998.0 M995.5,424 V430 M993.0,430 H998.0" stroke="#2030e0" stroke-width="1.2" fill="none"/>
<path d="M943,484.3 H955 M943,501.4 H955 M946.7,484.3 V501.4 M952.6,484.3 V501.4" stroke="#2030e0" stroke-width="1.6" fill="none"/>
<circle cx="784.5" cy="522.4" r="2.5" fill="#2030e0"/><circle cx="911.9" cy="530.5" r="2.5" fill="#2030e0"/><circle cx="940.2" cy="502.6" r="2.5" fill="#2030e0"/><circle cx="946.7" cy="490.7" r="2.5" fill="#2030e0"/><circle cx="952.6" cy="490.7" r="2.5" fill="#2030e0"/><circle cx="958.6" cy="484.8" r="2.5" fill="#2030e0"/><circle cx="964.5" cy="470.5" r="2.5" fill="#2030e0"/><circle cx="970.5" cy="461.0" r="2.5" fill="#2030e0"/><circle cx="976.4" cy="451.4" r="2.5" fill="#2030e0"/><circle cx="982.4" cy="443.0" r="2.5" fill="#2030e0"/><circle cx="988.8" cy="434.8" r="2.5" fill="#2030e0"/><circle cx="995.5" cy="427.0" r="2.5" fill="#2030e0"/>
<polyline points="756.6,476.1 762.2,465.5 768.6,454.4 774.1,449.6 781.0,444.0 787.6,439.3 794.2,430.9 800.0,420.0" fill="none" stroke="#2030e0" stroke-width="1.3" stroke-dasharray="4,2.5"/>
<path d="M754.4,473.3 H758.8000000000001 M756.6,473.3 V478.90000000000003 M754.4,478.90000000000003 H758.8000000000001" stroke="#2030e0" stroke-width="1.2" fill="none"/><path d="M760.0,462.7 H764.4000000000001 M762.2,462.7 V468.3 M760.0,468.3 H764.4000000000001" stroke="#2030e0" stroke-width="1.2" fill="none"/><path d="M766.4,451.59999999999997 H770.8000000000001 M768.6,451.59999999999997 V457.2 M766.4,457.2 H770.8000000000001" stroke="#2030e0" stroke-width="1.2" fill="none"/><path d="M771.9,446.8 H776.3000000000001 M774.1,446.8 V452.40000000000003 M771.9,452.40000000000003 H776.3000000000001" stroke="#2030e0" stroke-width="1.2" fill="none"/><path d="M778.8,441.2 H783.2 M781,441.2 V446.8 M778.8,446.8 H783.2" stroke="#2030e0" stroke-width="1.2" fill="none"/><path d="M785.4,436.5 H789.8000000000001 M787.6,436.5 V442.1 M785.4,442.1 H789.8000000000001" stroke="#2030e0" stroke-width="1.2" fill="none"/><path d="M792.0,428.09999999999997 H796.4000000000001 M794.2,428.09999999999997 V433.7 M792.0,433.7 H796.4000000000001" stroke="#2030e0" stroke-width="1.2" fill="none"/><path d="M797.8,417.2 H802.2 M800,417.2 V422.8 M797.8,422.8 H802.2" stroke="#2030e0" stroke-width="1.2" fill="none"/>
<circle cx="756.6" cy="476.1" r="2.6" fill="#2030e0"/><circle cx="762.2" cy="465.5" r="2.6" fill="#2030e0"/><circle cx="768.6" cy="454.4" r="2.6" fill="#2030e0"/><circle cx="774.1" cy="449.6" r="2.6" fill="#2030e0"/><circle cx="781.0" cy="444.0" r="2.6" fill="#2030e0"/><circle cx="787.6" cy="439.3" r="2.6" fill="#2030e0"/><circle cx="794.2" cy="430.9" r="2.6" fill="#2030e0"/><circle cx="800.0" cy="420.0" r="2.6" fill="#2030e0"/>
<polyline points="763.0,465.2 770.0,455.0 776.0,448.0 783.0,443.0 789.6,438.5 795.0,428.0 800.6,418.2 805.4,407.6" fill="none" stroke="#7a30e8" stroke-width="1.3" stroke-dasharray="4,2.5"/>
<path d="M760.8,462.4 H765.2 M763,462.4 V468.0 M760.8,468.0 H765.2" stroke="#7a30e8" stroke-width="1.2" fill="none"/><path d="M767.8,452.2 H772.2 M770,452.2 V457.8 M767.8,457.8 H772.2" stroke="#7a30e8" stroke-width="1.2" fill="none"/><path d="M773.8,445.2 H778.2 M776,445.2 V450.8 M773.8,450.8 H778.2" stroke="#7a30e8" stroke-width="1.2" fill="none"/><path d="M780.8,440.2 H785.2 M783,440.2 V445.8 M780.8,445.8 H785.2" stroke="#7a30e8" stroke-width="1.2" fill="none"/><path d="M787.4,435.7 H791.8000000000001 M789.6,435.7 V441.3 M787.4,441.3 H791.8000000000001" stroke="#7a30e8" stroke-width="1.2" fill="none"/><path d="M792.8,425.2 H797.2 M795,425.2 V430.8 M792.8,430.8 H797.2" stroke="#7a30e8" stroke-width="1.2" fill="none"/><path d="M798.4,415.4 H802.8000000000001 M800.6,415.4 V421.0 M798.4,421.0 H802.8000000000001" stroke="#7a30e8" stroke-width="1.2" fill="none"/><path d="M803.1999999999999,404.8 H807.6 M805.4,404.8 V410.40000000000003 M803.1999999999999,410.40000000000003 H807.6" stroke="#7a30e8" stroke-width="1.2" fill="none"/>
<circle cx="763.0" cy="465.2" r="2.6" fill="#7a30e8"/><circle cx="770.0" cy="455.0" r="2.6" fill="#7a30e8"/><circle cx="776.0" cy="448.0" r="2.6" fill="#7a30e8"/><circle cx="783.0" cy="443.0" r="2.6" fill="#7a30e8"/><circle cx="789.6" cy="438.5" r="2.6" fill="#7a30e8"/><circle cx="795.0" cy="428.0" r="2.6" fill="#7a30e8"/><circle cx="800.6" cy="418.2" r="2.6" fill="#7a30e8"/><circle cx="805.4" cy="407.6" r="2.6" fill="#7a30e8"/>
<polyline points="752.9,505.0 761.4,471.0 768.6,459.1 775.0,445.6 781.3,430.6 788.0,417.0 794.0,405.0 801.0,392.0 807.0,380.0" fill="none" stroke="#80f0f0" stroke-width="1.3" stroke-dasharray="4,2.5"/>
<path d="M750.6999999999999,502.2 H755.1 M752.9,502.2 V507.8 M750.6999999999999,507.8 H755.1" stroke="#80f0f0" stroke-width="1.2" fill="none"/><path d="M759.1999999999999,468.2 H763.6 M761.4,468.2 V473.8 M759.1999999999999,473.8 H763.6" stroke="#80f0f0" stroke-width="1.2" fill="none"/><path d="M766.4,456.3 H770.8000000000001 M768.6,456.3 V461.90000000000003 M766.4,461.90000000000003 H770.8000000000001" stroke="#80f0f0" stroke-width="1.2" fill="none"/><path d="M772.8,442.8 H777.2 M775,442.8 V448.40000000000003 M772.8,448.40000000000003 H777.2" stroke="#80f0f0" stroke-width="1.2" fill="none"/><path d="M779.0999999999999,427.8 H783.5 M781.3,427.8 V433.40000000000003 M779.0999999999999,433.40000000000003 H783.5" stroke="#80f0f0" stroke-width="1.2" fill="none"/><path d="M785.8,414.2 H790.2 M788,414.2 V419.8 M785.8,419.8 H790.2" stroke="#80f0f0" stroke-width="1.2" fill="none"/><path d="M791.8,402.2 H796.2 M794,402.2 V407.8 M791.8,407.8 H796.2" stroke="#80f0f0" stroke-width="1.2" fill="none"/><path d="M798.8,389.2 H803.2 M801,389.2 V394.8 M798.8,394.8 H803.2" stroke="#80f0f0" stroke-width="1.2" fill="none"/><path d="M804.8,377.2 H809.2 M807,377.2 V382.8 M804.8,382.8 H809.2" stroke="#80f0f0" stroke-width="1.2" fill="none"/>
<circle cx="752.9" cy="505.0" r="2.6" fill="#80f0f0"/><circle cx="761.4" cy="471.0" r="2.6" fill="#80f0f0"/><circle cx="768.6" cy="459.1" r="2.6" fill="#80f0f0"/><circle cx="775.0" cy="445.6" r="2.6" fill="#80f0f0"/><circle cx="781.3" cy="430.6" r="2.6" fill="#80f0f0"/><circle cx="788.0" cy="417.0" r="2.6" fill="#80f0f0"/><circle cx="794.0" cy="405.0" r="2.6" fill="#80f0f0"/><circle cx="801.0" cy="392.0" r="2.6" fill="#80f0f0"/><circle cx="807.0" cy="380.0" r="2.6" fill="#80f0f0"/>
<polyline points="757.5,498.8 765.0,478.0 772.0,456.0 780.0,435.0 788.0,414.0 793.0,400.0 800.0,385.0 806.1,372.5" fill="none" stroke="#101010" stroke-width="1.3" stroke-dasharray="4,2.5"/>
<path d="M755.3,496.0 H759.7 M757.5,496.0 V501.6 M755.3,501.6 H759.7" stroke="#101010" stroke-width="1.2" fill="none"/><path d="M762.8,475.2 H767.2 M765,475.2 V480.8 M762.8,480.8 H767.2" stroke="#101010" stroke-width="1.2" fill="none"/><path d="M769.8,453.2 H774.2 M772,453.2 V458.8 M769.8,458.8 H774.2" stroke="#101010" stroke-width="1.2" fill="none"/><path d="M777.8,432.2 H782.2 M780,432.2 V437.8 M777.8,437.8 H782.2" stroke="#101010" stroke-width="1.2" fill="none"/><path d="M785.8,411.2 H790.2 M788,411.2 V416.8 M785.8,416.8 H790.2" stroke="#101010" stroke-width="1.2" fill="none"/><path d="M790.8,397.2 H795.2 M793,397.2 V402.8 M790.8,402.8 H795.2" stroke="#101010" stroke-width="1.2" fill="none"/><path d="M797.8,382.2 H802.2 M800,382.2 V387.8 M797.8,387.8 H802.2" stroke="#101010" stroke-width="1.2" fill="none"/><path d="M803.9,369.7 H808.3000000000001 M806.1,369.7 V375.3 M803.9,375.3 H808.3000000000001" stroke="#101010" stroke-width="1.2" fill="none"/>
<circle cx="757.5" cy="498.8" r="2.6" fill="#101010"/><circle cx="765.0" cy="478.0" r="2.6" fill="#101010"/><circle cx="772.0" cy="456.0" r="2.6" fill="#101010"/><circle cx="780.0" cy="435.0" r="2.6" fill="#101010"/><circle cx="788.0" cy="414.0" r="2.6" fill="#101010"/><circle cx="793.0" cy="400.0" r="2.6" fill="#101010"/><circle cx="800.0" cy="385.0" r="2.6" fill="#101010"/><circle cx="806.1" cy="372.5" r="2.6" fill="#101010"/>
<polyline points="756.7,507.5 763.8,491.7 770.0,476.0 776.5,459.0 782.0,446.0 788.0,431.0 793.0,417.0 800.0,403.0 806.0,388.0" fill="none" stroke="#90e040" stroke-width="1.3" stroke-dasharray="4,2.5"/>
<path d="M754.5,504.7 H758.9000000000001 M756.7,504.7 V510.3 M754.5,510.3 H758.9000000000001" stroke="#90e040" stroke-width="1.2" fill="none"/><path d="M761.5999999999999,488.9 H766.0 M763.8,488.9 V494.5 M761.5999999999999,494.5 H766.0" stroke="#90e040" stroke-width="1.2" fill="none"/><path d="M767.8,473.2 H772.2 M770,473.2 V478.8 M767.8,478.8 H772.2" stroke="#90e040" stroke-width="1.2" fill="none"/><path d="M774.3,456.2 H778.7 M776.5,456.2 V461.8 M774.3,461.8 H778.7" stroke="#90e040" stroke-width="1.2" fill="none"/><path d="M779.8,443.2 H784.2 M782,443.2 V448.8 M779.8,448.8 H784.2" stroke="#90e040" stroke-width="1.2" fill="none"/><path d="M785.8,428.2 H790.2 M788,428.2 V433.8 M785.8,433.8 H790.2" stroke="#90e040" stroke-width="1.2" fill="none"/><path d="M790.8,414.2 H795.2 M793,414.2 V419.8 M790.8,419.8 H795.2" stroke="#90e040" stroke-width="1.2" fill="none"/><path d="M797.8,400.2 H802.2 M800,400.2 V405.8 M797.8,405.8 H802.2" stroke="#90e040" stroke-width="1.2" fill="none"/><path d="M803.8,385.2 H808.2 M806,385.2 V390.8 M803.8,390.8 H808.2" stroke="#90e040" stroke-width="1.2" fill="none"/>
<circle cx="756.7" cy="507.5" r="2.6" fill="#90e040"/><circle cx="763.8" cy="491.7" r="2.6" fill="#90e040"/><circle cx="770.0" cy="476.0" r="2.6" fill="#90e040"/><circle cx="776.5" cy="459.0" r="2.6" fill="#90e040"/><circle cx="782.0" cy="446.0" r="2.6" fill="#90e040"/><circle cx="788.0" cy="431.0" r="2.6" fill="#90e040"/><circle cx="793.0" cy="417.0" r="2.6" fill="#90e040"/><circle cx="800.0" cy="403.0" r="2.6" fill="#90e040"/><circle cx="806.0" cy="388.0" r="2.6" fill="#90e040"/>
<polyline points="749.8,502.8 755.9,488.5 762.2,481.3 768.6,472.6 775.2,456.7 781.0,445.6 787.9,430.4 794.7,412.6 801.0,396.6" fill="none" stroke="#e01818" stroke-width="1.3" stroke-dasharray="4,2.5"/>
<path d="M747.5999999999999,500.0 H752.0 M749.8,500.0 V505.6 M747.5999999999999,505.6 H752.0" stroke="#e01818" stroke-width="1.2" fill="none"/><path d="M753.6999999999999,485.7 H758.1 M755.9,485.7 V491.3 M753.6999999999999,491.3 H758.1" stroke="#e01818" stroke-width="1.2" fill="none"/><path d="M760.0,478.5 H764.4000000000001 M762.2,478.5 V484.1 M760.0,484.1 H764.4000000000001" stroke="#e01818" stroke-width="1.2" fill="none"/><path d="M766.4,469.8 H770.8000000000001 M768.6,469.8 V475.40000000000003 M766.4,475.40000000000003 H770.8000000000001" stroke="#e01818" stroke-width="1.2" fill="none"/><path d="M773.0,453.9 H777.4000000000001 M775.2,453.9 V459.5 M773.0,459.5 H777.4000000000001" stroke="#e01818" stroke-width="1.2" fill="none"/><path d="M778.8,442.8 H783.2 M781,442.8 V448.40000000000003 M778.8,448.40000000000003 H783.2" stroke="#e01818" stroke-width="1.2" fill="none"/><path d="M785.6999999999999,427.59999999999997 H790.1 M787.9,427.59999999999997 V433.2 M785.6999999999999,433.2 H790.1" stroke="#e01818" stroke-width="1.2" fill="none"/><path d="M792.5,409.8 H796.9000000000001 M794.7,409.8 V415.40000000000003 M792.5,415.40000000000003 H796.9000000000001" stroke="#e01818" stroke-width="1.2" fill="none"/><path d="M798.8,393.8 H803.2 M801,393.8 V399.40000000000003 M798.8,399.40000000000003 H803.2" stroke="#e01818" stroke-width="1.2" fill="none"/>
<circle cx="749.8" cy="502.8" r="2.6" fill="#e01818"/><circle cx="755.9" cy="488.5" r="2.6" fill="#e01818"/><circle cx="762.2" cy="481.3" r="2.6" fill="#e01818"/><circle cx="768.6" cy="472.6" r="2.6" fill="#e01818"/><circle cx="775.2" cy="456.7" r="2.6" fill="#e01818"/><circle cx="781.0" cy="445.6" r="2.6" fill="#e01818"/><circle cx="787.9" cy="430.4" r="2.6" fill="#e01818"/><circle cx="794.7" cy="412.6" r="2.6" fill="#e01818"/><circle cx="801.0" cy="396.6" r="2.6" fill="#e01818"/>
<path d="M746,493.3 H754 M749.8,493.3 V516.3 M746,516.3 H754" stroke="#e01818" stroke-width="1.5" fill="none"/>
</svg>
</body></html>
